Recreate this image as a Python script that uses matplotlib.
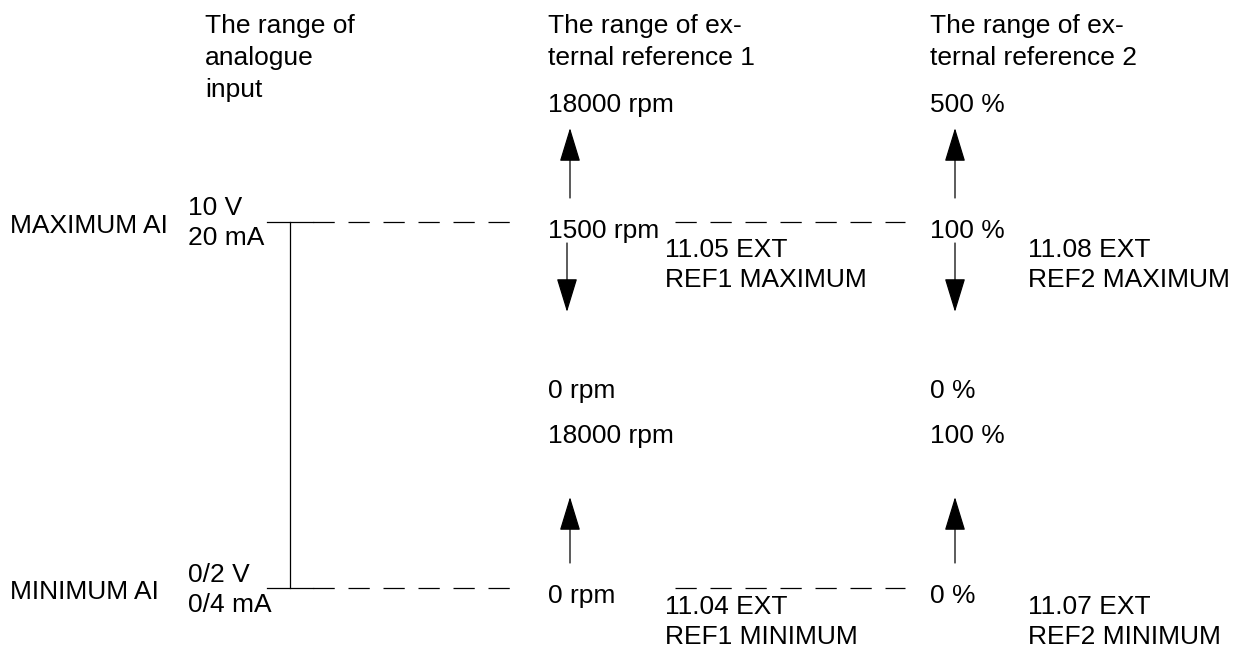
import matplotlib.pyplot as plt

plt.rcParams['font.family'] = ['Liberation Sans', 'DejaVu Sans']

# labels
headers = [["The range of", "analogue", "input"],
           ["The range of ex-", "ternal reference 1"],
           ["The range of ex-", "ternal reference 2"]]
ai_names = ["MAXIMUM AI", "MINIMUM AI"]
ai_values = [["10 V", "20 mA"], ["0/2 V", "0/4 mA"]]
ref1_labels = ["18000 rpm", "1500 rpm", "0 rpm", "18000 rpm", "0 rpm"]
ref2_labels = ["500 %", "100 %", "0 %", "100 %", "0 %"]
par1 = [["11.05 EXT", "REF1 MAXIMUM"], ["11.04 EXT", "REF1 MINIMUM"]]
par2 = [["11.08 EXT", "REF2 MAXIMUM"], ["11.07 EXT", "REF2 MINIMUM"]]

W, H = 1238, 651
fig = plt.figure(figsize=(W / 100, H / 100), dpi=100)
ax = fig.add_axes([0, 0, 1, 1])
ax.set_xlim(0, W)
ax.set_ylim(H, 0)
ax.axis('off')

fs = 19
lw = 0.9


def lines(x, y0, rows, step=31):
    # one text per line, placed on its baseline
    for i, t in enumerate(rows):
        ax.text(x, y0 + i * step, t, fontsize=fs, va='baseline', ha='left')


# headers
for x, rows in zip([205, 548, 930], headers):
    lines(x, 33, rows, step=32)

# AI rows
y_max, y_min = 222, 588
for yb, name in zip([233, 599], ai_names):
    ax.text(10, yb, name, fontsize=fs, va='baseline')
for yb, rows in zip([215, 582], ai_values):
    lines(188, yb, rows, step=30)

# vertical bracket and dashed lines
ax.plot([290, 290], [y_max, y_min], color='black', lw=lw)
for y in [y_max, y_min]:
    ax.plot([267, 313], [y, y], color='black', lw=lw)
    ax.plot([313, 522], [y, y], color='black', lw=lw, dashes=(17, 11), dash_capstyle='butt')
    ax.plot([675, 905], [y, y], color='black', lw=lw, dashes=(17, 11), dash_capstyle='butt')

# value labels
ref_base = [112, 238, 398, 443, 603]
for yb, a, b in zip(ref_base, ref1_labels, ref2_labels):
    ax.text(548, yb, a, fontsize=fs, va='baseline')
    ax.text(930, yb, b, fontsize=fs, va='baseline')

# parameter labels
for yb, a, b in zip([257, 614], par1, par2):
    lines(665, yb, a, step=30)
    lines(1028, yb, b, step=30)

ap = dict(arrowstyle='-|>,head_length=1.08,head_width=0.33', mutation_scale=20,
          lw=lw, color='black', fc='black', shrinkA=0, shrinkB=0)
for x, xd in [(570, 567), (955, 955)]:
    # upward from max
    ax.annotate('', xy=(x, 128), xytext=(x, 198), arrowprops=ap)
    # downward from max
    ax.annotate('', xy=(xd, 312), xytext=(xd, 243), arrowprops=ap)
    # upward from min
    ax.annotate('', xy=(x, 497), xytext=(x, 563), arrowprops=ap)

fig.savefig('out.png', dpi=100)
